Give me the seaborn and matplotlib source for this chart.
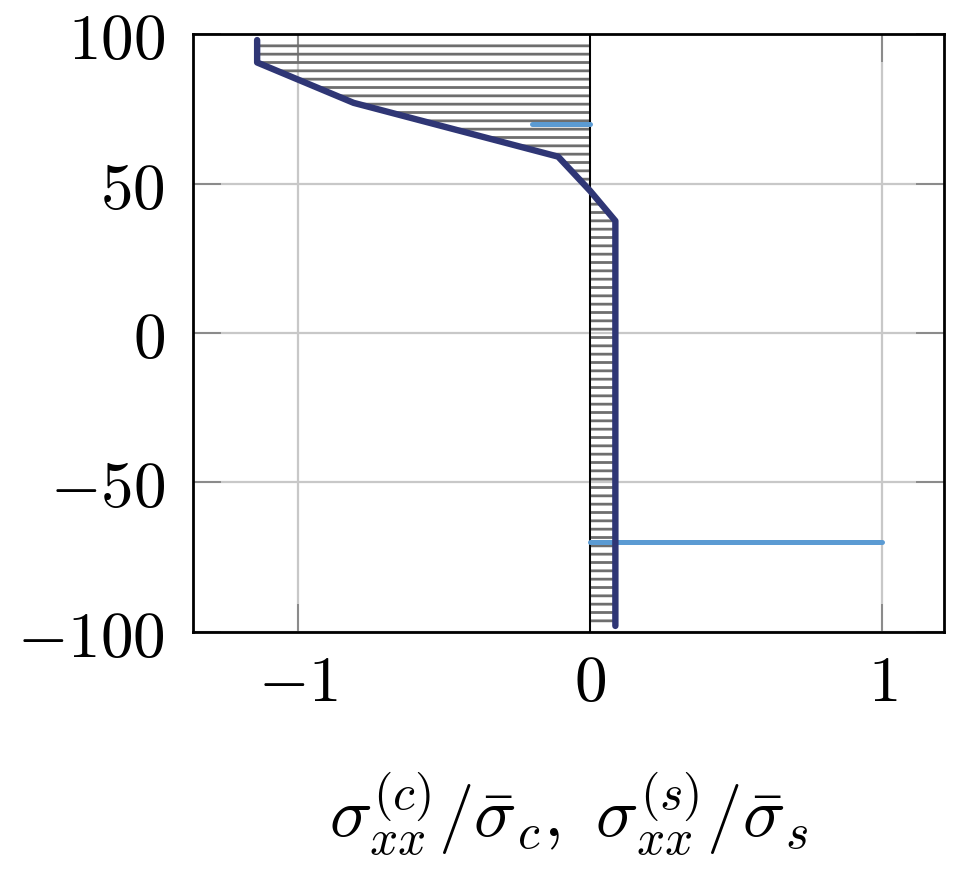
import matplotlib
matplotlib.use('Agg')
import matplotlib.pyplot as plt
import seaborn as sns
import numpy as np

# concrete stress profile (dark line), y in mm
conc_y = [98, 90.5, 77, 59, 47.5, 37.5, -98]
conc_x = [-1.14, -1.14, -0.81, -0.11, 0.0, 0.086, 0.086]

# steel stresses (light lines)
steel_top_y = [70, 70]
steel_top_x = [-0.2, 0.0]
steel_bot_y = [-70, -70]
steel_bot_x = [0.0, 1.0]

x_ticks = [-1, 0, 1]
x_labels = ['$-1$', '$0$', '$1$']
y_ticks = [-100, -50, 0, 50, 100]
y_labels = ['$-100$', '$-50$', '$0$', '$50$', '$100$']

sns.set_style('whitegrid')
plt.rcParams['mathtext.fontset'] = 'cm'
plt.rcParams['hatch.linewidth'] = 2.0

dark = '#2f3675'
light = '#5b9bd3'

fig = plt.figure(figsize=(9.74, 8.74), dpi=100)
ax = fig.add_axes([0.198, 0.277, 0.771, 0.684])

# hatched area between zero and the concrete stress
ax.fill_betweenx(conc_y, 0, conc_x, hatch='--', facecolor='none',
                 edgecolor='#6e6e6e', linewidth=0, zorder=2)
ax.axvline(0, color='black', lw=1.4, zorder=3)

sns.lineplot(x=steel_top_x, y=steel_top_y, sort=False, estimator=None,
             color=light, linewidth=3.6, ax=ax, zorder=4)
sns.lineplot(x=steel_bot_x, y=steel_bot_y, sort=False, estimator=None,
             color=light, linewidth=3.6, ax=ax, zorder=4)
sns.lineplot(x=conc_x, y=conc_y, sort=False, estimator=None,
             color=dark, linewidth=4.6, ax=ax, zorder=5)

ax.set_xlim(-1.36, 1.21)
ax.set_ylim(-100, 100)
ax.set_xticks(x_ticks)
ax.set_xticklabels(x_labels, fontsize=47, color='black')
ax.set_yticks(y_ticks)
ax.set_yticklabels(y_labels, fontsize=47, color='black')

ax.grid(True, color='#c8c8c8', lw=1.6)
ax.tick_params(axis='both', direction='in', length=20, width=1.4,
               color='#8a8a8a', left=True, bottom=True, top=True, right=True)
ax.tick_params(axis='y', pad=20)
ax.tick_params(axis='x', pad=14)
for s in ax.spines.values():
    s.set_color('black')
    s.set_linewidth(2.0)

ax.set_xlabel(r'$\sigma_{xx}^{(c)}/\bar{\sigma}_c,\ \sigma_{xx}^{(s)}/\bar{\sigma}_s$',
              fontsize=51, labelpad=40, color='black')
ax.set_ylabel('')

fig.savefig('out.png', dpi=100)
